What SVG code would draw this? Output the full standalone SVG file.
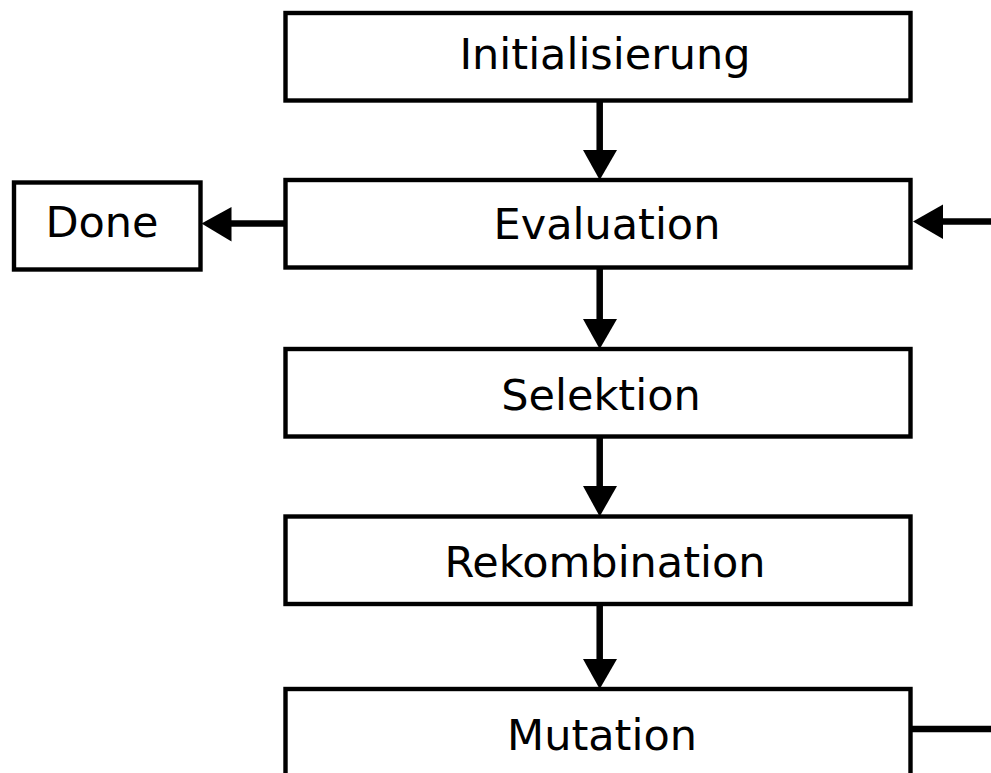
<svg xmlns="http://www.w3.org/2000/svg" width="991" height="773" viewBox="0 0 991 773">
  <style>
    .box { fill: #ffffff; stroke: #000000; stroke-width: 4.4; }
    .label { font-family: "DejaVu Sans", "Bitstream Vera Sans", sans-serif; font-size: 43px; fill: #000000; text-anchor: middle; }
    .wire { stroke: #000000; stroke-width: 6.5; fill: none; }
    .head { fill: #000000; }
  </style>
  <rect x="0" y="0" width="991" height="773" fill="#ffffff"/>

  <!-- connectors -->
  <g id="connectors">
    <!-- Initialisierung to Evaluation -->
    <line class="wire" x1="599.7" y1="100" x2="599.7" y2="152"/>
    <polygon class="head" points="583,150 617,150 599.7,180"/>
    <!-- Evaluation to Selektion -->
    <line class="wire" x1="599.7" y1="267" x2="599.7" y2="321"/>
    <polygon class="head" points="583,319 617,319 599.7,349"/>
    <!-- Selektion to Rekombination -->
    <line class="wire" x1="599.7" y1="436" x2="599.7" y2="488"/>
    <polygon class="head" points="583,486 617,486 599.7,516.5"/>
    <!-- Rekombination to Mutation -->
    <line class="wire" x1="599.7" y1="604" x2="599.7" y2="661"/>
    <polygon class="head" points="583,659 617,659 599.7,689"/>
    <!-- Evaluation to Done -->
    <line class="wire" x1="285" y1="223.5" x2="229" y2="223.5"/>
    <polygon class="head" points="231.5,207 231.5,241.5 201.5,223.5"/>
    <!-- loop back from Mutation into Evaluation -->
    <line class="wire" x1="911" y1="729" x2="991" y2="729"/>
    <line class="wire" x1="991" y1="221.5" x2="941" y2="221.5"/>
    <polygon class="head" points="943,204.5 943,239 913,221.5"/>
  </g>

  <g id="node-initialisierung">
    <rect class="box" x="285.5" y="13" width="625" height="87.5"/>
    <text class="label" x="605" y="68.5">Initialisierung</text>
  </g>
  <g id="node-evaluation">
    <rect class="box" x="285.5" y="180" width="625" height="87.5"/>
    <text class="label" x="607" y="238.5">Evaluation</text>
  </g>
  <g id="node-done">
    <rect class="box" x="14" y="182.5" width="186.5" height="87"/>
    <text class="label" x="102" y="237">Done</text>
  </g>
  <g id="node-selektion">
    <rect class="box" x="285.5" y="349" width="625" height="87.5"/>
    <text class="label" x="601" y="410">Selektion</text>
  </g>
  <g id="node-rekombination">
    <rect class="box" x="285.5" y="516.5" width="625" height="87.5"/>
    <text class="label" x="605" y="577">Rekombination</text>
  </g>
  <g id="node-mutation">
    <rect class="box" x="285.5" y="689" width="625" height="120"/>
    <text class="label" x="602" y="750">Mutation</text>
  </g>
</svg>
